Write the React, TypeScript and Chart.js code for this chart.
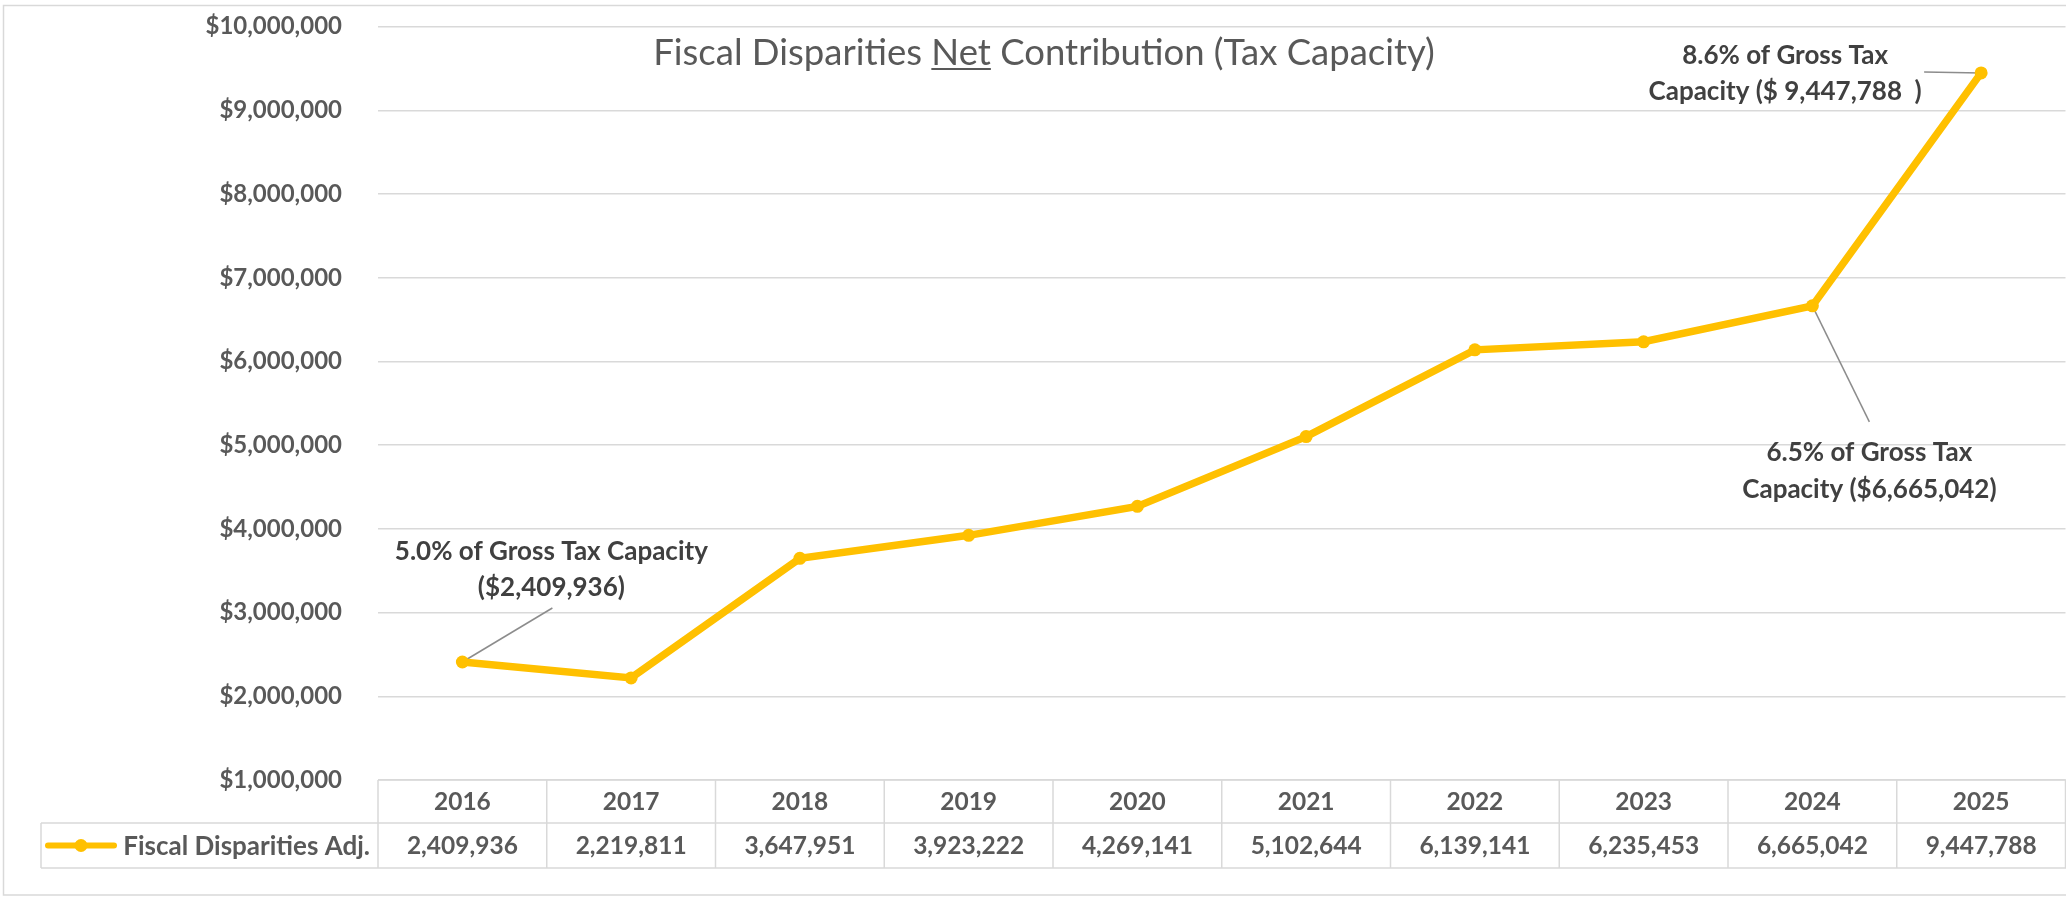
import React, { useEffect, useRef } from "react";
import { Chart, registerables } from "chart.js";

Chart.register(...registerables);

// ---------- data ----------
const years = ["2016", "2017", "2018", "2019", "2020", "2021", "2022", "2023", "2024", "2025"];
const netContribution = [2409936, 2219811, 3647951, 3923222, 4269141, 5102644, 6139141, 6235453, 6665042, 9447788];
const seriesLabel = "Fiscal Disparities Adj.";
const titleParts = ["Fiscal Disparities ", "Net", " Contribution (Tax Capacity)"];
const yMin = 1000000;
const yMax = 10000000;
const yStep = 1000000;
const calloutYears = ["2016", "2024", "2025"];
const calloutTexts = [
  ["5.0% of Gross Tax Capacity", "($2,409,936)"],
  ["6.5% of Gross Tax", "Capacity ($6,665,042)"],
  ["8.6% of Gross Tax", "Capacity ($ 9,447,788  )"],
];

// ---------- style / layout ----------
const FONT = "Lato, 'Open Sans', 'DejaVu Sans', sans-serif";
const GOLD = "#FFC000";
const TEXT = "#595959";
const DARK = "#404040";
const GRID = "#d9d9d9";
const CANVAS_W = 2072;
const CANVAS_H = 897;
const PLOT_LEFT = 378;
const PLOT_TOP = 26.7;
const PLOT_BOTTOM = 780;
const HEADER_H = 43;
const ROW_H = 45;
const LEGEND_LEFT = 41;
// callout geometry relative to the data point: [textDx, line1Dy, line2Dy, leaderDx, leaderDy]
const calloutGeom = [
  [89, -110, -74, 90, -54],
  [57, 147, 184, 57, 116],
  [-196, -17, 19, -57, -1],
];

const decorPlugin = {
  id: "decor",
  beforeDraw(chart: any) {
    const ctx = chart.ctx;
    ctx.save();
    ctx.fillStyle = "#ffffff";
    ctx.fillRect(0, 0, chart.width, chart.height);
    ctx.strokeStyle = GRID;
    ctx.lineWidth = 1.5;
    ctx.strokeRect(3.5, 5.5, chart.width + 20, 889.5);
    ctx.restore();
  },
  beforeDatasetsDraw(chart: any) {
    const ctx = chart.ctx;
    const area = chart.chartArea;
    const xs = chart.scales.x;
    const ys = chart.scales.y;
    ctx.save();

    // title with underlined "Net"
    ctx.font = `normal 36.5px ${FONT}`;
    ctx.fillStyle = TEXT;
    ctx.textBaseline = "alphabetic";
    ctx.textAlign = "left";
    const widths = titleParts.map((p) => ctx.measureText(p).width);
    const total = widths.reduce((a, b) => a + b, 0);
    let tx = 1044 - total / 2;
    const tBase = 65;
    titleParts.forEach((p, i) => {
      ctx.fillText(p, tx, tBase);
      if (i === 1) {
        ctx.strokeStyle = TEXT;
        ctx.lineWidth = 2;
        ctx.beginPath();
        ctx.moveTo(tx, tBase + 4);
        ctx.lineTo(tx + widths[i], tBase + 4);
        ctx.stroke();
      }
      tx += widths[i];
    });

    // data table
    const n = years.length;
    const colW = (area.right - area.left) / n;
    const rowTop = area.bottom + HEADER_H;
    const rowBottom = rowTop + ROW_H;
    ctx.strokeStyle = GRID;
    ctx.lineWidth = 1.5;
    ctx.beginPath();
    ctx.moveTo(area.left, area.bottom);
    ctx.lineTo(chart.width, area.bottom);
    ctx.moveTo(LEGEND_LEFT, rowTop);
    ctx.lineTo(chart.width, rowTop);
    ctx.moveTo(LEGEND_LEFT, rowBottom);
    ctx.lineTo(chart.width, rowBottom);
    ctx.moveTo(LEGEND_LEFT, rowTop);
    ctx.lineTo(LEGEND_LEFT, rowBottom);
    for (let k = 0; k <= n; k++) {
      const x = area.left + k * colW;
      ctx.moveTo(x, area.bottom);
      ctx.lineTo(x, rowBottom);
    }
    ctx.stroke();

    ctx.font = `bold 24.5px ${FONT}`;
    ctx.fillStyle = TEXT;
    ctx.textAlign = "center";
    ctx.textBaseline = "middle";
    years.forEach((yr, i) => {
      const cx = xs.getPixelForValue(i);
      ctx.fillText(yr, cx, area.bottom + HEADER_H / 2 + 1);
      ctx.fillText(netContribution[i].toLocaleString("en-US"), cx, rowTop + ROW_H / 2 + 1);
    });

    // legend key
    const ly = rowTop + ROW_H / 2;
    ctx.strokeStyle = GOLD;
    ctx.lineWidth = 6;
    ctx.lineCap = "round";
    ctx.beginPath();
    ctx.moveTo(LEGEND_LEFT + 7, ly);
    ctx.lineTo(LEGEND_LEFT + 73, ly);
    ctx.stroke();
    ctx.fillStyle = GOLD;
    ctx.beginPath();
    ctx.arc(LEGEND_LEFT + 40, ly, 6.5, 0, Math.PI * 2);
    ctx.fill();
    ctx.font = `bold 26px ${FONT}`;
    ctx.fillStyle = TEXT;
    ctx.textAlign = "right";
    ctx.fillText(seriesLabel, area.left - 8, ly + 1);

    // callouts
    calloutYears.forEach((yr, k) => {
      const i = years.indexOf(yr);
      const px = xs.getPixelForValue(i);
      const py = ys.getPixelForValue(netContribution[i]);
      const [dx, d1, d2, lx, ly2] = calloutGeom[k];
      ctx.strokeStyle = "#8c8c8c";
      ctx.lineWidth = 1.5;
      ctx.lineCap = "butt";
      ctx.beginPath();
      ctx.moveTo(px, py);
      ctx.lineTo(px + lx, py + ly2);
      ctx.stroke();
      ctx.font = `bold 26px ${FONT}`;
      ctx.fillStyle = DARK;
      ctx.textAlign = "center";
      ctx.textBaseline = "middle";
      ctx.fillText(calloutTexts[k][0], px + dx, py + d1);
      ctx.fillText(calloutTexts[k][1], px + dx, py + d2);
    });

    ctx.restore();
  },
};

export default function App() {
  const ref = useRef<HTMLCanvasElement | null>(null);

  useEffect(() => {
    if (!ref.current) return;
    const chart = new Chart(ref.current, {
      type: "line",
      data: {
        labels: years,
        datasets: [
          {
            label: seriesLabel,
            data: netContribution,
            borderColor: GOLD,
            backgroundColor: GOLD,
            borderWidth: 7.5,
            pointRadius: 6.5,
            pointBackgroundColor: GOLD,
            pointBorderColor: GOLD,
            pointBorderWidth: 0,
            tension: 0,
          },
        ],
      },
      options: {
        animation: false,
        responsive: false,
        devicePixelRatio: 1,
        layout: { padding: { left: 0, right: 0, top: PLOT_TOP, bottom: CANVAS_H - PLOT_BOTTOM } },
        plugins: {
          legend: { display: false },
          title: { display: false },
          tooltip: { enabled: false },
        },
        scales: {
          x: {
            type: "category",
            display: false,
            offset: true,
          },
          y: {
            min: yMin,
            max: yMax,
            border: { display: false },
            grid: { color: GRID, lineWidth: 1.5, drawTicks: false },
            afterFit: (scale: any) => {
              scale.width = PLOT_LEFT;
              scale.paddingTop = 0;
              scale.paddingBottom = 0;
            },
            ticks: {
              stepSize: yStep,
              padding: 36,
              color: TEXT,
              font: { family: FONT, size: 24, weight: "bold" },
              callback: (v: any) => "$" + Number(v).toLocaleString("en-US"),
            },
          },
        },
      },
      plugins: [decorPlugin],
    });
    return () => chart.destroy();
  }, []);

  return (
    <div
      style={{
        position: "fixed",
        left: 0,
        top: 0,
        width: "100vw",
        height: "100vh",
        overflow: "hidden",
        background: "#ffffff",
      }}
    >
      <canvas ref={ref} width={CANVAS_W} height={CANVAS_H} style={{ width: CANVAS_W, height: CANVAS_H, display: "block" }} />
    </div>
  );
}
